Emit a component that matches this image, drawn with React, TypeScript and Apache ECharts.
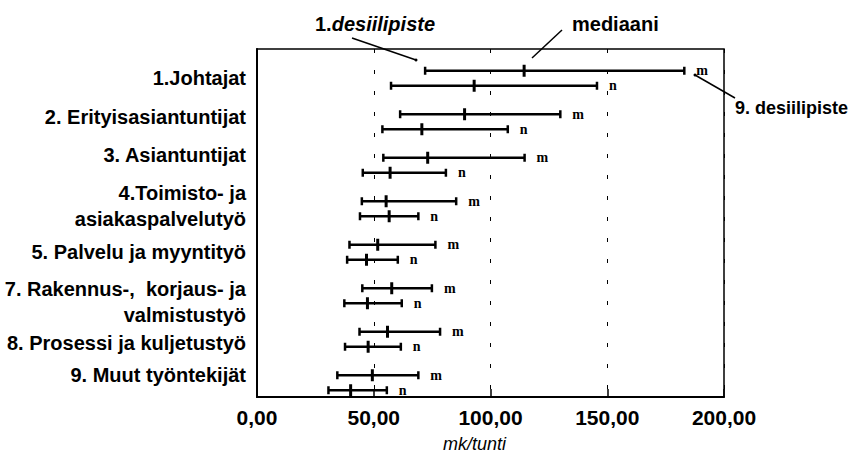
import React, { useEffect, useRef } from "react";
import * as echarts from "echarts";

const categories = [
  "1.Johtajat",
  "2. Erityisasiantuntijat",
  "3. Asiantuntijat",
  "4.Toimisto- ja\nasiakaspalvelutyö",
  "5. Palvelu ja myyntityö",
  "7. Rakennus-,  korjaus- ja\nvalmistustyö",
  "8. Prosessi ja kuljetustyö",
  "9. Muut työntekijät",
];
// label vertical nudges relative to the category centre (px, + = down)
const labelShift = [7, 3, -3, 5, 7, 14, 11, 0];

// "m" rows: 1st decile, median, 9th decile (mk/tunti)
const mLow = [72.0, 61.3, 54.1, 44.9, 39.6, 45.1, 43.9, 34.4];
const mMedian = [114.4, 88.9, 73.1, 55.3, 51.7, 57.7, 55.9, 49.4];
const mHigh = [183.0, 129.9, 114.6, 85.3, 76.4, 74.9, 78.4, 69.1];
// "n" rows
const nLow = [57.4, 53.7, 45.3, 44.1, 38.6, 37.4, 37.7, 30.6];
const nMedian = [93.0, 70.6, 57.0, 56.6, 46.9, 47.3, 47.6, 40.1];
const nHigh = [145.6, 107.4, 80.9, 69.1, 60.3, 62.0, 61.6, 55.6];

const xTicks = [0, 50, 100, 150, 200];

const SANS = "'Liberation Sans', Arial, sans-serif";
const NARROW = "'Liberation Sans Narrow', 'Liberation Sans', Arial, sans-serif";
const SERIF = "'Liberation Serif', 'Times New Roman', serif";

function makeRender(letter: string, offset: number) {
  return (params: any, api: any) => {
    const cat = api.value(0);
    const lo = api.coord([api.value(1), cat]);
    const md = api.coord([api.value(2), cat]);
    const hi = api.coord([api.value(3), cat]);
    const y = lo[1] + offset;
    const stroke = { stroke: "#000", lineWidth: 2.5 };
    return {
      type: "group",
      children: [
        { type: "line", shape: { x1: lo[0], y1: y, x2: hi[0], y2: y }, style: stroke },
        { type: "line", shape: { x1: lo[0], y1: y - 4, x2: lo[0], y2: y + 4 }, style: stroke },
        { type: "line", shape: { x1: hi[0], y1: y - 4, x2: hi[0], y2: y + 4 }, style: stroke },
        {
          type: "line",
          shape: { x1: md[0], y1: y - 6, x2: md[0], y2: y + 6 },
          style: { stroke: "#000", lineWidth: 3 },
        },
        {
          type: "text",
          x: hi[0] + 12,
          y: y,
          style: {
            text: letter,
            fill: "#000",
            fontSize: 14,
            fontWeight: "bold",
            fontFamily: SERIF,
            align: "left",
            verticalAlign: "middle",
          },
        },
      ],
    };
  };
}

export default function App() {
  const ref = useRef<HTMLDivElement>(null);
  useEffect(() => {
    if (!ref.current) return;
    const chart = echarts.init(ref.current, null, { renderer: "svg" });
    const mData = categories.map((_, i) => [i, mLow[i], mMedian[i], mHigh[i]]);
    const nData = categories.map((_, i) => [i, nLow[i], nMedian[i], nHigh[i]]);
    const annotations: any[] = [
      {
        type: "text",
        x: 315,
        y: 24,
        style: {
          text: "{a|1.}{b|desiilipiste}",
          rich: {
            a: { fontFamily: SANS, fontSize: 20, fontWeight: "bold", fill: "#000" },
            b: { fontFamily: SANS, fontSize: 20, fontStyle: "italic", fontWeight: "bold", fill: "#000" },
          },
          verticalAlign: "middle",
          align: "left",
        },
      },
      { type: "line", shape: { x1: 352, y1: 38, x2: 416, y2: 60 }, style: { stroke: "#000", lineWidth: 1.5 } },
      { type: "circle", shape: { cx: 416, cy: 60, r: 1.5 }, style: { fill: "#000" } },
      {
        type: "text",
        x: 572,
        y: 24,
        style: { text: "mediaani", fontFamily: SANS, fontSize: 20, fontWeight: "bold", fill: "#000", verticalAlign: "middle", align: "left" },
      },
      { type: "line", shape: { x1: 562, y1: 30, x2: 532, y2: 58 }, style: { stroke: "#000", lineWidth: 1.5 } },
      {
        type: "text",
        x: 735,
        y: 108,
        style: { text: "9. desiilipiste", fontFamily: SANS, fontSize: 18, fontWeight: "bold", fill: "#000", verticalAlign: "middle", align: "left" },
      },
      { type: "line", shape: { x1: 695, y1: 75, x2: 735, y2: 98 }, style: { stroke: "#000", lineWidth: 1.5 } },
      { type: "circle", shape: { cx: 695, cy: 75, r: 1.5 }, style: { fill: "#000" } },
    ];
    chart.setOption({
      animation: false,
      backgroundColor: "#fff",
      grid: {
        left: 257,
        right: 132,
        top: 49,
        bottom: 60,
        outerBoundsMode: "none",
        containLabel: false,
        show: true,
        borderColor: "#000",
        borderWidth: 1.5,
        backgroundColor: "transparent",
      },
      xAxis: {
        type: "value",
        min: xTicks[0],
        max: xTicks[xTicks.length - 1],
        interval: 50,
        axisLine: { show: true, onZero: false, lineStyle: { color: "#000", width: 2 } },
        axisTick: { show: true, inside: true, length: 8, lineStyle: { color: "#000", width: 1.5 } },
        splitLine: { show: true, lineStyle: { color: "#000", width: 1, type: [4, 17] } },
        axisLabel: {
          color: "#000",
          fontFamily: NARROW,
          fontWeight: "bold",
          fontSize: 21,
          margin: 10,
          formatter: (v: number) => v.toFixed(2).replace(".", ","),
        },
        name: "mk/tunti",
        nameLocation: "middle",
        nameGap: 38,
        nameTextStyle: {
          color: "#000",
          fontFamily: SANS,
          fontStyle: "italic",
          fontSize: 18,
          padding: [0, 32, 0, 0],
        },
      },
      yAxis: {
        type: "category",
        inverse: true,
        data: categories,
        axisLine: { show: true, lineStyle: { color: "#000", width: 2 } },
        axisTick: { show: false },
        splitLine: { show: false },
        axisLabel: { show: false },
      },
      series: [
        {
          type: "custom",
          name: "m",
          renderItem: makeRender("m", 0),
          data: mData,
          encode: { x: [1, 2, 3], y: 0 },
          z: 5,
        },
        {
          type: "custom",
          name: "n",
          renderItem: makeRender("n", 15),
          data: nData,
          encode: { x: [1, 2, 3], y: 0 },
          z: 5,
        },
      ],
      graphic: annotations,
    });
    // category labels placed from the category axis positions
    const x0 = chart.convertToPixel({ xAxisIndex: 0 }, 0) as number;
    const labels = categories.map((c, i) => {
      const y = chart.convertToPixel({ yAxisIndex: 0 }, c) as number;
      return {
        type: "text",
        x: x0 - 11,
        y: y + labelShift[i],
        style: {
          text: c,
          fontFamily: SANS,
          fontSize: 20,
          fontWeight: "bold",
          lineHeight: 26,
          fill: "#000",
          align: "right",
          verticalAlign: "middle",
        },
      };
    });
    chart.setOption({ graphic: [...annotations, ...labels] });
    return () => chart.dispose();
  }, []);
  return (
    <div
      ref={ref}
      style={{ position: "fixed", left: 0, top: 0, width: 856, height: 457, background: "#fff" }}
    />
  );
}
